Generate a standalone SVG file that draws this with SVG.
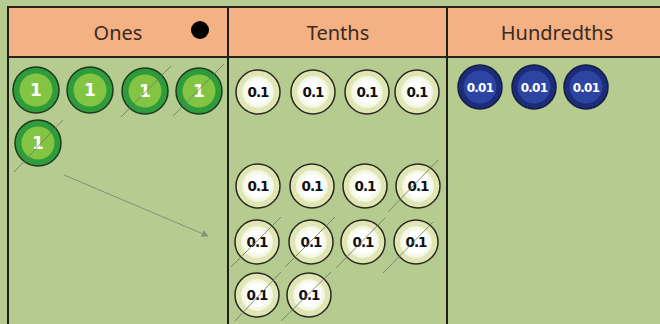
<svg xmlns="http://www.w3.org/2000/svg" width="660" height="324" viewBox="0 0 660 324">
<defs>
<style>
.hdr{fill:#f3b184;stroke:#2a2320;stroke-width:2}
.ht{font-family:"Noto Sans","Liberation Sans",sans-serif;font-size:20px;fill:#3a2a22;text-anchor:middle}
.grid{stroke:#1e1e1a;stroke-width:2;fill:none}
.one-o{fill:#2f9c3c;stroke:#1f3a1f;stroke-width:1.5}
.one-i{fill:#84c443}
.one-t{font-family:"DejaVu Sans","Liberation Sans",sans-serif;font-weight:bold;font-size:17px;fill:#ffffff;text-anchor:middle}
.ten-o{fill:#dfe6b3;stroke:#2a2a22;stroke-width:1.5}
.ten-i{fill:url(#wg)}
.ten-t{font-family:"DejaVu Sans","Liberation Sans",sans-serif;font-weight:bold;font-size:13.5px;fill:#111;text-anchor:middle;letter-spacing:-1px}
.hun-o{fill:#1d2c78;stroke:#141c44;stroke-width:1.5}
.hun-i{fill:#2c45a2}
.hun-t{font-family:"DejaVu Sans","Liberation Sans",sans-serif;font-weight:bold;font-size:12px;fill:#ffffff;text-anchor:middle;letter-spacing:-0.8px}
.x{stroke:#6b7a66;stroke-width:1;opacity:0.8}
.arr{stroke:#7f9578;stroke-width:1;fill:none}
</style>
<radialGradient id="wg" cx="0.5" cy="0.5" r="0.5">
<stop offset="0.6" stop-color="#ffffff"/>
<stop offset="1" stop-color="#f1f4dc"/>
</radialGradient>
<marker id="ah" viewBox="0 0 10 10" refX="9" refY="5" markerWidth="7" markerHeight="7" orient="auto">
<path d="M0,0 L10,5 L0,10 z" fill="#7f9578"/>
</marker>
</defs>
<rect x="0" y="0" width="660" height="324" fill="#b5cb8f"/>
<g id="header">
<rect class="hdr" x="8" y="7" width="660" height="50"/>
<text class="ht" x="118" y="40">Ones</text>
<text class="ht" x="338" y="40">Tenths</text>
<text class="ht" x="557" y="40">Hundredths</text>
<circle cx="200" cy="30" r="9" fill="#000"/>
</g>
<g id="grid">
<line class="grid" x1="8" y1="7" x2="8" y2="324"/>
<line class="grid" x1="228" y1="7" x2="228" y2="324"/>
<line class="grid" x1="447" y1="7" x2="447" y2="324"/>
</g>
<g id="ones">
<g id="one1"><circle class="one-o" cx="36" cy="90" r="23"/><circle class="one-i" cx="36" cy="90" r="16.5"/><text class="one-t" x="36" y="96">1</text></g>
<g id="one2"><circle class="one-o" cx="90" cy="90" r="23"/><circle class="one-i" cx="90" cy="90" r="16.5"/><text class="one-t" x="90" y="96">1</text></g>
<g id="one3"><circle class="one-o" cx="145" cy="91" r="23"/><circle class="one-i" cx="145" cy="91" r="16.5"/><text class="one-t" x="145" y="97">1</text></g>
<g id="one4"><circle class="one-o" cx="199" cy="91" r="23"/><circle class="one-i" cx="199" cy="91" r="16.5"/><text class="one-t" x="199" y="97">1</text></g>
<g id="one5"><circle class="one-o" cx="38" cy="143" r="23"/><circle class="one-i" cx="38" cy="143" r="16.5"/><text class="one-t" x="38" y="149">1</text></g>
</g>
<g id="tenths">
<g id="t1"><circle class="ten-o" cx="258" cy="92" r="22"/><circle class="ten-i" cx="258" cy="92" r="16"/><text class="ten-t" x="258" y="97">0.1</text></g>
<g id="t2"><circle class="ten-o" cx="313" cy="92" r="22"/><circle class="ten-i" cx="313" cy="92" r="16"/><text class="ten-t" x="313" y="97">0.1</text></g>
<g id="t3"><circle class="ten-o" cx="367" cy="92" r="22"/><circle class="ten-i" cx="367" cy="92" r="16"/><text class="ten-t" x="367" y="97">0.1</text></g>
<g id="t4"><circle class="ten-o" cx="417" cy="92" r="22"/><circle class="ten-i" cx="417" cy="92" r="16"/><text class="ten-t" x="417" y="97">0.1</text></g>
<g id="t5"><circle class="ten-o" cx="258" cy="186" r="22"/><circle class="ten-i" cx="258" cy="186" r="16"/><text class="ten-t" x="258" y="191">0.1</text></g>
<g id="t6"><circle class="ten-o" cx="312" cy="186" r="22"/><circle class="ten-i" cx="312" cy="186" r="16"/><text class="ten-t" x="312" y="191">0.1</text></g>
<g id="t7"><circle class="ten-o" cx="365" cy="186" r="22"/><circle class="ten-i" cx="365" cy="186" r="16"/><text class="ten-t" x="365" y="191">0.1</text></g>
<g id="t8"><circle class="ten-o" cx="418" cy="186" r="22"/><circle class="ten-i" cx="418" cy="186" r="16"/><text class="ten-t" x="418" y="191">0.1</text></g>
<g id="t9"><circle class="ten-o" cx="257" cy="242" r="22"/><circle class="ten-i" cx="257" cy="242" r="16"/><text class="ten-t" x="257" y="247">0.1</text></g>
<g id="t10"><circle class="ten-o" cx="311" cy="242" r="22"/><circle class="ten-i" cx="311" cy="242" r="16"/><text class="ten-t" x="311" y="247">0.1</text></g>
<g id="t11"><circle class="ten-o" cx="363" cy="242" r="22"/><circle class="ten-i" cx="363" cy="242" r="16"/><text class="ten-t" x="363" y="247">0.1</text></g>
<g id="t12"><circle class="ten-o" cx="416" cy="242" r="22"/><circle class="ten-i" cx="416" cy="242" r="16"/><text class="ten-t" x="416" y="247">0.1</text></g>
<g id="t13"><circle class="ten-o" cx="257" cy="295" r="22"/><circle class="ten-i" cx="257" cy="295" r="16"/><text class="ten-t" x="257" y="300">0.1</text></g>
<g id="t14"><circle class="ten-o" cx="309" cy="295" r="22"/><circle class="ten-i" cx="309" cy="295" r="16"/><text class="ten-t" x="309" y="300">0.1</text></g>
</g>
<g id="hundredths">
<g id="h1"><circle class="hun-o" cx="480" cy="87" r="22"/><circle class="hun-i" cx="480" cy="87" r="16.5"/><text class="hun-t" x="480" y="91.5">0.01</text></g>
<g id="h2"><circle class="hun-o" cx="534" cy="87" r="22"/><circle class="hun-i" cx="534" cy="87" r="16.5"/><text class="hun-t" x="534" y="91.5">0.01</text></g>
<g id="h3"><circle class="hun-o" cx="586" cy="87" r="22"/><circle class="hun-i" cx="586" cy="87" r="16.5"/><text class="hun-t" x="586" y="91.5">0.01</text></g>
</g>
<g id="connectors">
<line class="x" x1="121" y1="117" x2="171" y2="66"/>
<line class="x" x1="173" y1="116" x2="224" y2="64"/>
<line class="x" x1="14" y1="172" x2="63" y2="120"/>
<line class="x" x1="388" y1="212" x2="438" y2="160"/>
<line class="x" x1="231" y1="267" x2="281" y2="217"/>
<line class="x" x1="285" y1="267" x2="335" y2="217"/>
<line class="x" x1="336" y1="268" x2="385" y2="218"/>
<line class="x" x1="383" y1="273" x2="433" y2="222"/>
<line class="x" x1="235" y1="321" x2="281" y2="272"/>
<line class="x" x1="281" y1="321" x2="331" y2="272"/>
<line class="arr" x1="64" y1="175" x2="208" y2="236" marker-end="url(#ah)"/>
</g>
</svg>
